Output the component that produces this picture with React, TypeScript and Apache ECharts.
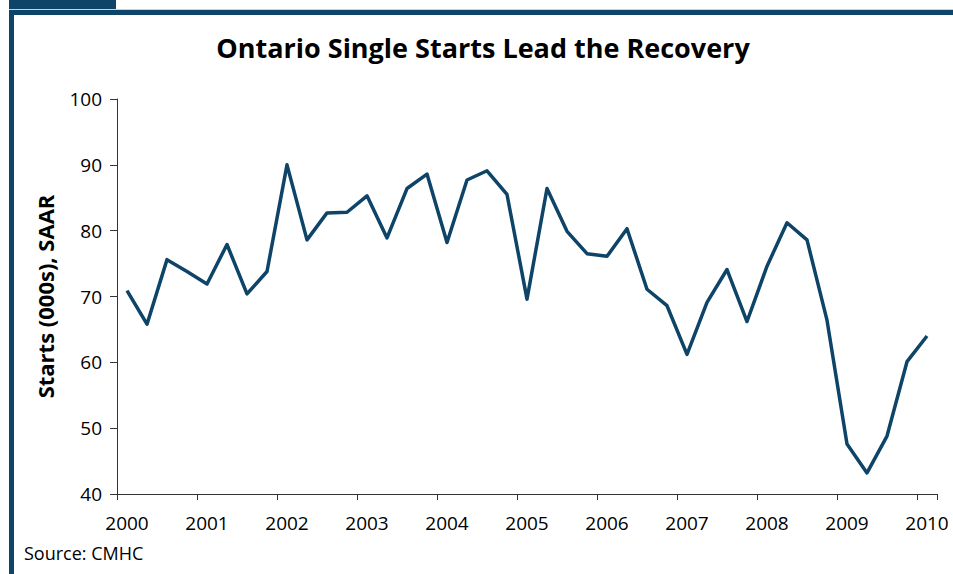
import React, { useEffect, useRef } from "react";
import * as echarts from "echarts";

const years = ["2000", "2001", "2002", "2003", "2004", "2005", "2006", "2007", "2008", "2009", "2010"];
const quarters = ["Q1", "Q2", "Q3", "Q4"];
const categories: string[] = [];
years.forEach((y) => quarters.forEach((q) => categories.push(y + " " + q)));
categories.length = 41; // 2000 Q1 .. 2010 Q1

const singleStarts = [
  70.9, 65.8, 75.6, 73.8, 71.9, 77.9, 70.4, 73.8,
  90.0, 78.6, 82.7, 82.8, 85.3, 78.9, 86.4, 88.6,
  78.2, 87.7, 89.1, 85.5, 69.6, 86.4, 79.9, 76.5,
  76.1, 80.3, 71.1, 68.6, 61.2, 69.1, 74.1, 66.2,
  74.6, 81.2, 78.6, 66.4, 47.6, 43.2, 48.8, 60.1,
  64.0,
];

const yTicks = { min: 40, max: 100, interval: 10 };
const titleText = "Ontario Single Starts Lead the Recovery";
const yAxisName = "Starts (000s), SAAR";
const sourceText = "Source: CMHC";

const navy = "#0d4468";
const font = "'Open Sans', Lato, sans-serif";

export default function App() {
  const ref = useRef<HTMLDivElement>(null);
  useEffect(() => {
    document.body.style.margin = "0";
    const chart = echarts.init(ref.current!, undefined, { renderer: "svg" });
    chart.setOption({
      animation: false,
      backgroundColor: "#ffffff",
      textStyle: { fontFamily: font },
      grid: { left: 117, right: 16, top: 99, bottom: 80, containLabel: false },
      graphic: [
        { type: "rect", shape: { x: 9, y: 0, width: 107, height: 12 }, style: { fill: navy } },
        { type: "rect", shape: { x: 9, y: 9, width: 944, height: 1 }, style: { fill: "#c8d2da" } },
        { type: "rect", shape: { x: 9, y: 10, width: 944, height: 5 }, style: { fill: navy } },
        { type: "rect", shape: { x: 9, y: 10, width: 5, height: 564 }, style: { fill: navy } },
        {
          type: "text",
          x: 483,
          y: 47,
          style: {
            text: titleText,
            fontFamily: font,
            fontSize: 27,
            fontWeight: "bold",
            fill: "#000",
            textAlign: "center",
            textVerticalAlign: "middle",
          },
        },
        {
          type: "text",
          x: 24,
          y: 553,
          style: {
            text: sourceText,
            fontFamily: font,
            fontSize: 18,
            fill: "#000",
            textAlign: "left",
            textVerticalAlign: "middle",
          },
        },
      ],
      xAxis: {
        type: "category",
        data: categories,
        boundaryGap: true,
        axisLine: { lineStyle: { color: "#333", width: 1 } },
        axisTick: { show: true, interval: 3, length: 6, lineStyle: { color: "#333" } },
        axisLabel: {
          interval: 3,
          margin: 19,
          fontSize: 19,
          color: "#000",
          fontFamily: font,
          formatter: (v: string) => v.slice(0, 4),
        },
        splitLine: { show: false },
      },
      yAxis: {
        type: "value",
        min: yTicks.min,
        max: yTicks.max,
        interval: yTicks.interval,
        name: yAxisName,
        nameLocation: "middle",
        nameGap: 61,
        nameTextStyle: { fontSize: 22, fontWeight: "bold", color: "#000", fontFamily: font },
        axisLine: { show: true, lineStyle: { color: "#333", width: 1 } },
        axisTick: { show: true, length: 7, lineStyle: { color: "#333" } },
        axisLabel: { margin: 15, fontSize: 19, color: "#000", fontFamily: font },
        splitLine: { show: false },
      },
      series: [
        {
          type: "line",
          data: singleStarts,
          symbol: "none",
          lineStyle: { color: navy, width: 3.5, join: "round" },
        },
      ],
    });
    return () => chart.dispose();
  }, []);
  return <div ref={ref} style={{ position: "absolute", left: 0, top: 0, width: 953, height: 574 }} />;
}
